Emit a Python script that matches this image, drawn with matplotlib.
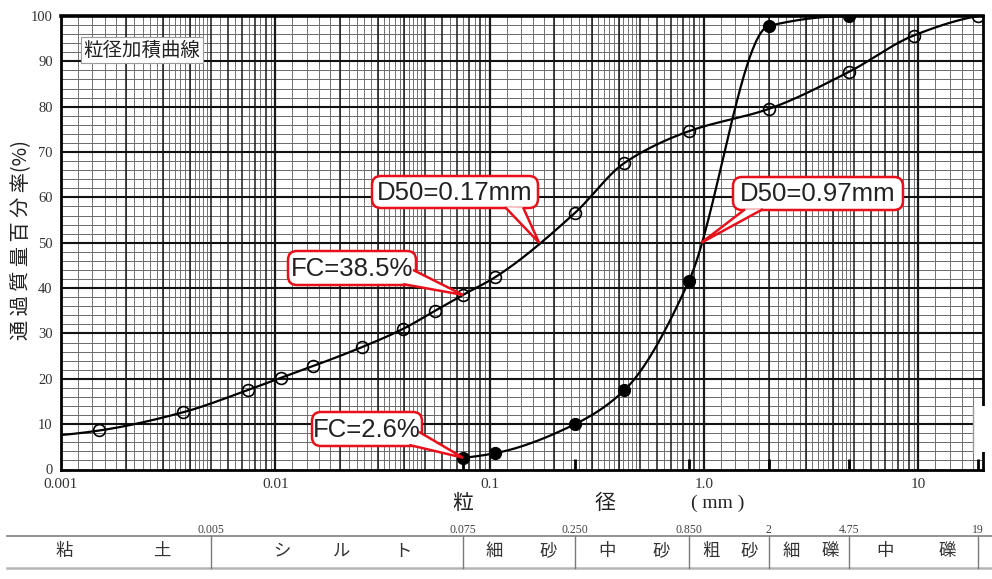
import numpy as np
import matplotlib
matplotlib.use("Agg")
import matplotlib.pyplot as plt
from matplotlib.patches import FancyBboxPatch, PathPatch, Rectangle
from matplotlib.path import Path
from matplotlib.transforms import IdentityTransform
from matplotlib.ticker import NullLocator

# ---------------- data ----------------
sizes_open = [0.00151, 0.0037, 0.00743, 0.0106, 0.0150, 0.0254, 0.0394, 0.0556,
              0.075, 0.106, 0.25, 0.425, 0.85, 2.0, 4.75, 9.5, 19.0]
pass_open = [8.6, 12.6, 17.5, 20.2, 22.8, 27.0, 31.0, 35.0,
             38.5, 42.4, 56.6, 67.6, 74.6, 79.5, 87.7, 95.7, 100.0]
open_curve_start = (0.001, 7.6)

sizes_filled = [0.075, 0.106, 0.25, 0.425, 0.85, 2.0, 4.75]
pass_filled = [2.6, 3.6, 10.0, 17.5, 41.6, 97.8, 100.0]

x_ticks = [0.001, 0.01, 0.1, 1.0, 10]
x_tick_labels = ["0.001", "0.01", "0.1", "1.0", "10"]
y_ticks = list(range(0, 101, 10))

table_bounds = [0.005, 0.075, 0.250, 0.850, 2, 4.75, 19]
table_bound_labels = ["0.005", "0.075", "0.250", "0.850", "2", "4.75", "19"]
soil_classes = ["粘土", "シルト", "細砂", "中砂", "粗砂", "細礫", "中礫"]

callout_texts = ["D50=0.17mm", "D50=0.97mm", "FC=38.5%", "FC=2.6%"]
callout_anchors = [(0.17, 50.0), (0.97, 50.0), (0.075, 38.5), (0.075, 2.6)]

# ---------------- layout ----------------
W, H = 992, 579
CJK = ["Noto Sans CJK JP", "DejaVu Sans"]
SERIF = ["Liberation Serif", "DejaVu Serif"]
RED = "#e8101a"

fig = plt.figure(figsize=(W / 100, H / 100), dpi=100)
ax = fig.add_axes([61 / W, 1 - 469.5 / H, (983 - 61) / W, (469.5 - 16) / H])
ax.set_xscale("log")
ax.set_xlim(0.001, 20)
ax.set_ylim(0, 100)


def D(px, py):
    return (px, H - py)


# grid lines
for dec in [1e-3, 1e-2, 1e-1, 1.0, 10.0]:
    for f in list(np.arange(1.2, 5.0, 0.2)) + [5.5, 6.5, 7.5, 8.5, 9.5]:
        v = f * dec
        if v < 20:
            ax.axvline(v, color="#707070", lw=0.7, zorder=1)
    for m in range(1, 10):
        v = m * dec
        if v < 20 and v > 0.001:
            ax.axvline(v, color="#1a1a1a", lw=1.6 if m == 1 else 1.1, zorder=1.5)
for yv in range(2, 100, 2):
    if yv % 10:
        ax.axhline(yv, color="#6a6a6a", lw=0.7, zorder=1)
    else:
        ax.axhline(yv, color="#111111", lw=1.5, zorder=1.5)

# sieve marks at bottom
for s in table_bounds[1:]:
    ax.plot([s, s], [0, 2.3], color="black", lw=2.0, zorder=2, solid_capstyle="butt")


def pchip(x, y, xq):
    x = np.asarray(x, float); y = np.asarray(y, float)
    h = np.diff(x); d = np.diff(y) / h
    n = len(x); m = np.zeros(n)
    for k in range(1, n - 1):
        if d[k - 1] * d[k] > 0:
            w1 = 2 * h[k] + h[k - 1]; w2 = h[k] + 2 * h[k - 1]
            m[k] = (w1 + w2) / (w1 / d[k - 1] + w2 / d[k])
    def end(h0, h1, d0, d1):
        s = ((2 * h0 + h1) * d0 - h0 * d1) / (h0 + h1)
        if np.sign(s) != np.sign(d0):
            s = 0.0
        elif np.sign(d0) != np.sign(d1) and abs(s) > abs(3 * d0):
            s = 3 * d0
        return s
    m[0] = end(h[0], h[1], d[0], d[1])
    m[-1] = end(h[-1], h[-2], d[-1], d[-2])
    i = np.clip(np.searchsorted(x, xq) - 1, 0, n - 2)
    t = (xq - x[i]) / h[i]
    h00 = 2 * t**3 - 3 * t**2 + 1; h10 = t**3 - 2 * t**2 + t
    h01 = -2 * t**3 + 3 * t**2; h11 = t**3 - t**2
    return h00 * y[i] + h10 * h[i] * m[i] + h01 * y[i + 1] + h11 * h[i] * m[i + 1]


# curves
lx = np.log10([open_curve_start[0]] + sizes_open)
ly = [open_curve_start[1]] + pass_open
xq = np.linspace(lx[0], lx[-1], 600)
ax.plot(10**xq, pchip(lx, ly, xq), color="black", lw=1.6, zorder=3)
ax.plot(sizes_open, pass_open, "o", ms=8.5, mfc="none", mec="black", mew=1.2, zorder=4)

lx2 = np.log10(sizes_filled)
xq2 = np.linspace(lx2[0], lx2[-1], 600)
ax.plot(10**xq2, pchip(lx2, pass_filled, xq2), color="black", lw=1.6, zorder=3)
ax.plot(sizes_filled, pass_filled, "o", ms=8.5, mfc="black", mec="black", zorder=4)

# axes styling
for sp in ax.spines.values():
    sp.set_linewidth(2.0)
    sp.set_color("black")
ax.spines["top"].set_linewidth(2.6)
ax.set_xticks(x_ticks)
ax.set_xticklabels(x_tick_labels)
ax.xaxis.set_minor_locator(NullLocator())
ax.set_yticks(y_ticks)
ax.tick_params(length=0, labelsize=10.5, labelcolor="#333333")
ax.tick_params(axis="x", pad=6, labelsize=11)
ax.tick_params(axis="y", pad=6)
for lab in ax.get_xticklabels() + ax.get_yticklabels():
    lab.set_family(SERIF)

# axis labels
fig.text(463 / W, 1 - 503 / H, "粒", family=CJK, fontsize=15, ha="center", va="center", color="#222")
fig.text(605 / W, 1 - 503 / H, "径", family=CJK, fontsize=15, ha="center", va="center", color="#222")
fig.text(718 / W, 1 - 503 / H, "( mm )", family=SERIF, fontsize=14, ha="center", va="center", color="#222")
fig.text(22 / W, 1 - 240 / H, "通 過 質 量 百 分 率(%)", family=CJK, fontsize=14.5,
         rotation=90, ha="center", va="center", color="#222")

# title box
fig.text(142 / W, 1 - 50 / H, "粒径加積曲線", family=CJK, fontsize=14, ha="center", va="center",
         color="#222", bbox=dict(boxstyle="square,pad=0.15", fc="white", ec="#999999", lw=0.8), zorder=5)

# white box at right
fig.add_artist(Rectangle(D(973, 452), 20, 46, transform=IdentityTransform(), fc="white",
                         ec="none", zorder=3))
fig.add_artist(plt.Line2D([973, 973], [H - 406, H - 452], transform=IdentityTransform(),
                          color="#999999", lw=1.0, zorder=3.1))

# table
fig.add_artist(plt.Line2D([7, W], [H - 536, H - 536], transform=IdentityTransform(), color="#8a8a8a", lw=1.3))
fig.add_artist(plt.Line2D([7, W], [H - 568, H - 568], transform=IdentityTransform(), color="#b5b5b5", lw=1.8))
bx = [ax.transData.transform((b, 0))[0] for b in table_bounds]
for xpix, lab in zip(bx, table_bound_labels):
    fig.add_artist(plt.Line2D([xpix, xpix], [H - 536, H - 568], transform=IdentityTransform(),
                              color="#7a7a7a", lw=1.0))
    fig.text(xpix / W, 1 - 530 / H, lab, family=SERIF, fontsize=8.5, ha="center", va="center", color="#444")
edges = [7] + bx
for i, name in enumerate(soil_classes):
    l, r = edges[i], edges[i + 1]
    n = len(name)
    for j, ch in enumerate(name):
        frac = 0.28 + (0.76 - 0.28) * j / (n - 1)
        fig.text((l + frac * (r - l)) / W, 1 - 551 / H, ch, family=CJK, fontsize=12.5,
                 ha="center", va="center", color="#333")

# callouts (box in image px, pointer base points in image px)
callout_boxes = [(372, 176, 538, 208), (733, 177, 903, 210), (288, 251, 416, 285), (312, 412, 422, 446)]
callout_bases = [((508, 208), (526, 208)), ((742, 210), (760, 210)),
                 ((416, 270), (406, 285)), ((422, 432), (412, 446))]

fig.canvas.draw()
for text, (l, t, r, b), (b1, b2), anchor in zip(callout_texts, callout_boxes, callout_bases, callout_anchors):
    tip = ax.transData.transform(anchor)
    box = FancyBboxPatch(D(l, b), r - l, b - t, boxstyle="round,pad=0,rounding_size=9",
                         transform=IdentityTransform(), fc="white", ec=RED, lw=1.8, zorder=6)
    fig.add_artist(box)
    cx, cy = (l + r) / 2, (t + b) / 2
    pts = []
    for bpt in (b1, b2):
        v = np.array([cx - bpt[0], cy - bpt[1]])
        v = v / np.linalg.norm(v) * 3.0
        pts.append(D(bpt[0] + v[0], bpt[1] + v[1]))
    path = Path([pts[0], tuple(tip), pts[1]], [Path.MOVETO, Path.LINETO, Path.LINETO])
    fig.add_artist(PathPatch(path, transform=IdentityTransform(), fc="white", ec=RED, lw=1.8,
                             zorder=7, joinstyle="miter"))
    fig.text(cx / W, 1 - (cy + 1) / H, text, family=["Liberation Sans", "DejaVu Sans"], fontsize=18.5,
             ha="center", va="center", color="#222", zorder=8)

fig.savefig("out.png", dpi=100)
